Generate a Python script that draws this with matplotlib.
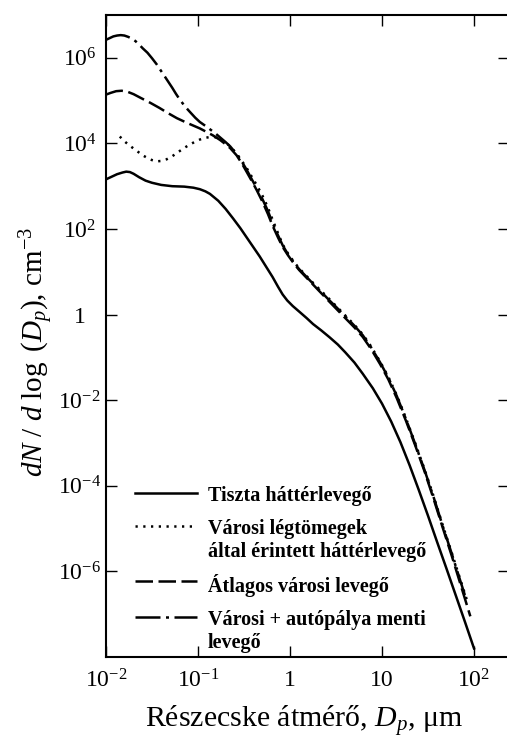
import numpy as np
import matplotlib
matplotlib.use("Agg")
import matplotlib.pyplot as plt
from matplotlib.ticker import FixedLocator, FixedFormatter, NullLocator

plt.rcParams['font.family'] = ['Liberation Serif', 'DejaVu Serif']
plt.rcParams['mathtext.fontset'] = 'custom'
plt.rcParams['mathtext.rm'] = 'Liberation Serif'
plt.rcParams['mathtext.it'] = 'Liberation Serif:italic'
plt.rcParams['mathtext.bf'] = 'Liberation Serif:bold'

# values, stored as decades:
# log10 of diameter (um) and log10 of dN/dlogDp (cm-3)
tiszta_log_dp = [-2.00, -1.94, -1.88, -1.82, -1.78, -1.74, -1.70, -1.64, -1.57, -1.50,
                 -1.40, -1.28, -1.15, -1.05, -0.98, -0.92, -0.87, -0.78, -0.70, -0.62,
                 -0.54, -0.47, -0.40, -0.33, -0.26, -0.19, -0.13, -0.08, -0.03, 0.03,
                 0.10, 0.18, 0.25, 0.34, 0.43, 0.52, 0.60, 0.70, 0.79, 0.90,
                 1.00, 1.10, 1.20, 1.30, 1.40, 1.50, 1.60, 1.70, 1.80, 1.90, 2.00]
tiszta_log_n = [3.16, 3.22, 3.28, 3.32, 3.34, 3.33, 3.29, 3.21, 3.13, 3.08,
                3.03, 3.00, 2.99, 2.965, 2.93, 2.88, 2.82, 2.66, 2.47, 2.25,
                2.02, 1.80, 1.58, 1.36, 1.12, 0.88, 0.65, 0.47, 0.33, 0.20,
                0.07, -0.08, -0.22, -0.37, -0.53, -0.70, -0.88, -1.12, -1.38, -1.72,
                -2.08, -2.50, -2.98, -3.52, -4.10, -4.70, -5.32, -5.93, -6.55, -7.17, -7.80]

legtomeg_log_dp = [-1.85, -1.80, -1.75, -1.70, -1.65, -1.60, -1.55, -1.50, -1.45, -1.40,
                   -1.34, -1.28, -1.22, -1.16, -1.10, -1.04, -0.98, -0.92, -0.87, -0.82,
                   -0.76, -0.70, -0.65, -0.58, -0.52, -0.47, -0.41, -0.36, -0.30, -0.24,
                   -0.19, -0.13, -0.08, -0.02, 0.04, 0.10, 0.18, 0.26, 0.34, 0.42,
                   0.51, 0.60, 0.70, 0.79, 0.88, 0.98, 1.07, 1.16, 1.26, 1.36,
                   1.46, 1.56, 1.66, 1.76, 1.86, 1.92]
legtomeg_log_n = [4.16, 4.05, 3.96, 3.88, 3.80, 3.72, 3.66, 3.61, 3.58, 3.59,
                  3.63, 3.70, 3.79, 3.88, 3.96, 4.03, 4.09, 4.13, 4.15, 4.15,
                  4.10, 4.02, 3.93, 3.76, 3.58, 3.42, 3.20, 3.02, 2.78, 2.50,
                  2.22, 1.90, 1.64, 1.42, 1.24, 1.08, 0.90, 0.72, 0.55, 0.38,
                  0.18, -0.02, -0.24, -0.46, -0.74, -1.10, -1.46, -1.88, -2.42, -3.00,
                  -3.60, -4.24, -4.92, -5.58, -6.25, -6.65]

atlag_log_dp = [-2.00, -1.95, -1.89, -1.83, -1.77, -1.70, -1.62, -1.52, -1.42, -1.32,
                -1.23, -1.12, -0.98, -0.90, -0.84, -0.76, -0.70, -0.65, -0.58, -0.52,
                -0.47, -0.41, -0.36, -0.30, -0.24, -0.19, -0.13, -0.08, -0.02, 0.04,
                0.10, 0.18, 0.26, 0.34, 0.42, 0.51, 0.60, 0.70, 0.79, 0.88,
                0.98, 1.07, 1.16, 1.26, 1.36, 1.46, 1.56, 1.66, 1.76, 1.86, 1.96]
atlag_log_n = [5.14, 5.18, 5.22, 5.23, 5.21, 5.15, 5.06, 4.95, 4.83, 4.70,
               4.59, 4.48, 4.35, 4.26, 4.19, 4.08, 3.98, 3.89, 3.72, 3.52,
               3.33, 3.10, 2.90, 2.64, 2.35, 2.08, 1.80, 1.58, 1.38, 1.20,
               1.04, 0.86, 0.68, 0.50, 0.32, 0.12, -0.08, -0.30, -0.52, -0.80,
               -1.16, -1.52, -1.95, -2.48, -3.05, -3.65, -4.30, -4.98, -5.65, -6.35, -7.05]

autopalya_log_dp = [-2.00, -1.96, -1.92, -1.88, -1.84, -1.80, -1.76, -1.72, -1.68, -1.64,
                    -1.60, -1.55, -1.50, -1.45, -1.41, -1.36, -1.32, -1.28, -1.24, -1.20,
                    -1.14, -1.09, -1.03, -0.98, -0.92, -0.87, -0.82, -0.76, -0.70, -0.65,
                    -0.58, -0.52, -0.47, -0.41, -0.36, -0.30, -0.24, -0.19, -0.13, -0.08,
                    -0.02, 0.04, 0.10, 0.18, 0.26, 0.34, 0.42, 0.51, 0.60, 0.70,
                    0.79, 0.88, 0.98, 1.07, 1.16, 1.26, 1.36, 1.46, 1.56, 1.66,
                    1.76, 1.86, 1.91]
autopalya_log_n = [6.42, 6.46, 6.50, 6.52, 6.53, 6.52, 6.49, 6.45, 6.39, 6.31,
                   6.22, 6.12, 5.99, 5.85, 5.72, 5.56, 5.43, 5.30, 5.16, 5.03,
                   4.86, 4.74, 4.60, 4.50, 4.41, 4.33, 4.25, 4.14, 4.03, 3.93,
                   3.75, 3.56, 3.38, 3.14, 2.95, 2.70, 2.42, 2.14, 1.85, 1.62,
                   1.40, 1.22, 1.06, 0.88, 0.70, 0.53, 0.35, 0.16, -0.04, -0.26,
                   -0.48, -0.76, -1.12, -1.48, -1.90, -2.44, -3.02, -3.62, -4.26, -4.94,
                   -5.60, -6.28, -6.62]

labels = ['Tiszta háttérlevegő',
          'Városi légtömegek\náltal érintett háttérlevegő',
          'Átlagos városi levegő',
          'Városi + autópálya menti\nlevegő']

x_ticks = [0.01, 0.1, 1, 10, 100]
x_ticklabels = ['$10^{-2}$', '$10^{-1}$', '1', '10', '$10^{2}$']
y_ticks = [1e6, 1e4, 1e2, 1, 1e-2, 1e-4, 1e-6]
y_ticklabels = ['$10^{6}$', '$10^{4}$', '$10^{2}$', '1', '$10^{-2}$', '$10^{-4}$', '$10^{-6}$']

fig = plt.figure(figsize=(5.07, 7.45), dpi=100)
ax = fig.add_axes([106 / 507, 1 - 657 / 745, 403 / 507, 642 / 745])
ax.set_xscale('log')
ax.set_yscale('log')

lw = 1.8
series = [(tiszta_log_dp, tiszta_log_n, '-'),
          (legtomeg_log_dp, legtomeg_log_n, (0, (0.9, 2.2))),
          (atlag_log_dp, atlag_log_n, (0, (7, 2.2))),
          (autopalya_log_dp, autopalya_log_n, (0, (10, 2.2, 1.2, 2.2)))]
for (ldp, ln, ls), lab in zip(series, labels):
    ax.plot(10 ** np.array(ldp), 10 ** np.array(ln), color='black', lw=lw, ls=ls, label=lab)

ax.set_xlim(0.01, 240)
ax.set_ylim(1e-8, 1e7)

ax.xaxis.set_major_locator(FixedLocator(x_ticks))
ax.xaxis.set_major_formatter(FixedFormatter(x_ticklabels))
ax.yaxis.set_major_locator(FixedLocator(y_ticks))
ax.yaxis.set_major_formatter(FixedFormatter(y_ticklabels))
ax.xaxis.set_minor_locator(NullLocator())
ax.yaxis.set_minor_locator(NullLocator())

ax.tick_params(which='major', direction='in', length=8, width=1, top=True, right=True,
               labelsize=17, colors='black')
ax.tick_params(axis='x', pad=9)
ax.tick_params(axis='y', pad=19)
for t in ax.get_yticklabels():
    t.set_horizontalalignment('center')

for s in ax.spines.values():
    s.set_linewidth(1.5)

leg = ax.legend(loc='upper left', bbox_to_anchor=(0.072, 0.266), frameon=False,
                prop={'family': 'Liberation Serif', 'weight': 'bold', 'size': 14.5},
                handlelength=3.1, handletextpad=0.5, labelspacing=0.62,
                borderpad=0, borderaxespad=0)
# put each legend line next to the first text line, as in the original
for col in leg._legend_handle_box.get_children():
    for row in col.get_children():
        row.align = 'top'
for t in leg.get_texts():
    t.set_linespacing(1.2)

fig.text(37 / 507, 1 - 352 / 745, r'$dN\ /\ d\ \log\ (D_p)$, cm$^{-3}$',
         rotation=90, ha='center', va='center', fontsize=21)
fig.text(304 / 507, 1 - 721 / 745, 'Részecske átmérő, $D_p$, μm',
         ha='center', va='center', fontsize=21.5)

fig.savefig('out.png', dpi=100)
